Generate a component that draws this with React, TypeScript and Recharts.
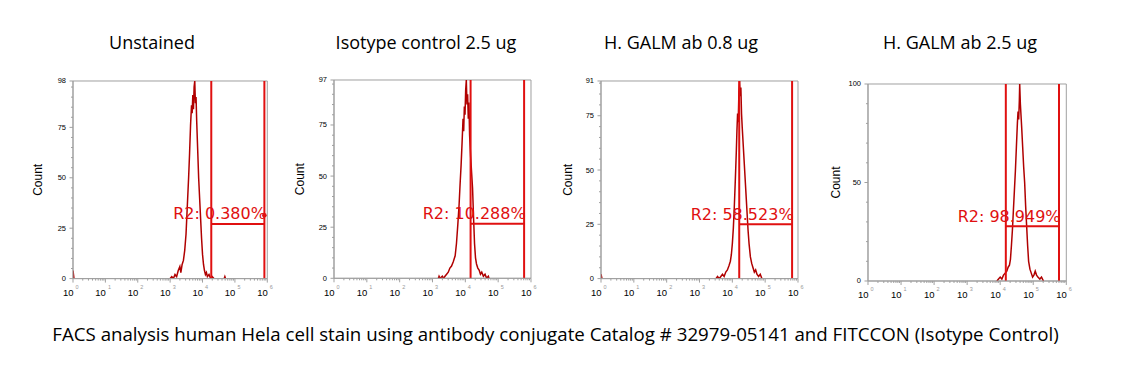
import React from 'react';
import { LineChart, Line, XAxis, YAxis, ReferenceLine, ReferenceArea, ReferenceDot } from 'recharts';

// ---------- data ----------
const titles = ['Unstained', 'Isotype control 2.5 ug', 'H. GALM ab 0.8 ug', 'H. GALM ab 2.5 ug'];
const caption =
  'FACS analysis human Hela cell stain using antibody conjugate Catalog # 32979-05141 and FITCCON (Isotype Control)';
const gateLabels = ['R2: 0.380%', 'R2: 10.288%', 'R2: 58.523%', 'R2: 98.949%'];
const yMax = [98, 97, 91, 100];
const yMajorTicks = [
  [0, 25, 50, 75, 98],
  [0, 25, 50, 75, 97],
  [0, 25, 50, 75, 91],
  [0, 50, 100],
];
const yMinorStep = [5, 5, 5, 10];
const gateLeft = [4.27, 4.16, 4.21, 4.17];
const gateRight = [5.91, 5.79, 5.82, 5.78];
const gateLevel = [27.1, 26.7, 25.0, 27.8];
const gateDot: (number | null)[] = [31.4, null, null, null];
const decades = [0, 1, 2, 3, 4, 5, 6];
const minorMultipliers = [2, 3, 4, 5, 6, 7, 8, 9];

// histogram points: [log10 intensity, count]; null breaks the trace
const unstained: [number, number | null][] = [
  [0, 0], [0, 4], [0.03, 0], [0.05, null],
  [3.0, 0], [3.05, 1], [3.1, 0], [3.15, 2], [3.2, 1], [3.25, 4], [3.3, 6], [3.33, 3], [3.37, 7], [3.41, 9],
  [3.45, 14], [3.49, 22], [3.53, 36], [3.57, 50], [3.6, 62], [3.63, 76], [3.66, 86], [3.68, 82], [3.7, 91],
  [3.72, 84], [3.74, 95], [3.76, 98], [3.78, 87], [3.8, 90], [3.82, 78], [3.85, 64], [3.88, 50], [3.91, 40],
  [3.94, 30], [3.97, 20], [4.0, 12], [4.03, 7], [4.06, 4], [4.09, 2], [4.12, 3], [4.15, 1], [4.2, 2], [4.25, 0],
  [4.3, 1], [4.35, 0], [4.5, null],
  [4.67, 0], [4.69, 1], [4.71, 0],
];
const isotype: [number, number | null][] = [
  [3.18, 0], [3.2, 1], [3.23, 0], [3.3, 1], [3.34, 0], [3.38, 1], [3.43, 2], [3.48, 3], [3.53, 5], [3.58, 6],
  [3.63, 8], [3.69, 11], [3.73, 17], [3.77, 26], [3.81, 36], [3.84, 46], [3.87, 55], [3.9, 66], [3.93, 78],
  [3.95, 72], [3.97, 84], [3.99, 80], [4.01, 92], [4.03, 97], [4.05, 85], [4.07, 90], [4.09, 78], [4.11, 86],
  [4.13, 70], [4.16, 60], [4.19, 52], [4.22, 44], [4.25, 30], [4.28, 17], [4.31, 10], [4.34, 7], [4.38, 5],
  [4.42, 4], [4.46, 2], [4.5, 3], [4.55, 1], [4.6, 2], [4.65, 0], [4.7, 1], [4.72, 0],
];
const galm08: [number, number | null][] = [
  [0, 0], [0, 2], [0.03, 0], [0.05, null],
  [3.5, 0], [3.55, 1], [3.6, 0], [3.65, 1], [3.7, 2], [3.75, 1], [3.8, 3], [3.85, 4], [3.9, 6], [3.94, 8],
  [3.97, 11], [4.0, 16], [4.03, 23], [4.06, 33], [4.09, 45], [4.12, 58], [4.14, 68], [4.16, 76], [4.18, 72],
  [4.2, 86], [4.22, 91], [4.24, 84], [4.26, 88], [4.28, 76], [4.3, 70], [4.33, 62], [4.36, 54], [4.39, 46],
  [4.42, 38], [4.45, 30], [4.48, 22], [4.51, 16], [4.55, 10], [4.59, 7], [4.63, 5], [4.67, 3], [4.71, 4],
  [4.75, 2], [4.8, 1], [4.85, 2], [4.9, 0],
];
const galm25: [number, number | null][] = [
  [3.9, 0], [3.95, 1], [4.0, 2], [4.05, 1], [4.1, 3], [4.15, 4], [4.2, 5], [4.24, 7], [4.28, 8], [4.31, 11],
  [4.34, 18], [4.37, 26], [4.4, 36], [4.43, 46], [4.46, 56], [4.49, 68], [4.52, 80], [4.54, 86], [4.56, 82],
  [4.58, 92], [4.59, 100], [4.61, 90], [4.63, 84], [4.65, 78], [4.68, 68], [4.71, 58], [4.74, 50], [4.77, 38],
  [4.8, 28], [4.83, 18], [4.86, 10], [4.9, 6], [4.94, 4], [4.98, 2], [5.02, 3], [5.06, 5], [5.1, 3], [5.14, 2],
  [5.2, 1], [5.25, 2], [5.31, 0],
];
const series = [unstained, isotype, galm08, galm25];

// ---------- layout ----------
const boxes = [
  { L: 72.7, R: 267, T: 80.7, B: 278.3, countX: 38, titleX: 152 },
  { L: 334, R: 531, T: 80, B: 278.3, countX: 300, titleX: 426 },
  { L: 600.7, R: 797.7, T: 80.7, B: 278.3, countX: 568, titleX: 681 },
  { L: 867.7, R: 1066, T: 84, B: 281, countX: 836, titleX: 960 },
];
const GRID = '#a0a0a0';
const GATE = '#e01010';
const HIST = '#b00000';
const ML = 60, MT = 10, MR = 20, MB = 30;

const xTicks: number[] = [];
decades.forEach((d) => {
  xTicks.push(d);
  if (d < 6) minorMultipliers.forEach((k) => xTicks.push(d + Math.log10(k)));
});

function Panel({ i }: { i: number }) {
  const b = boxes[i];
  const width = b.R - b.L + ML + MR;
  const height = b.B - b.T + MT + MB;
  const left = b.L - ML;
  const top = b.T - MT;
  const data = series[i].map(([x, y]) => ({ x, y }));
  const majors = yMajorTicks[i];
  const yTicks: number[] = [...majors];
  for (let v = yMinorStep[i]; v < yMax[i]; v += yMinorStep[i]) if (!majors.includes(v)) yTicks.push(v);
  yTicks.sort((a, c) => a - c);

  const renderXTick = (p: any) => {
    const v = p.payload.value;
    const isMajor = Math.abs(v - Math.round(v)) < 1e-6;
    return (
      <g>
        <line x1={p.x} x2={p.x} y1={p.y} y2={p.y + (isMajor ? 4 : 2)} stroke={GRID} strokeWidth={1} />
        {isMajor && (
          <>
            <text x={p.x + 0.5} y={p.y + 17.5} textAnchor="end" fontSize={9.5} fontFamily="Liberation Sans, Arial" fill="#000">
              10
            </text>
            <text x={p.x + 2.5} y={p.y + 10.5} fontSize={5.5} fontFamily="Liberation Sans, Arial" fill="#999">
              {Math.round(v)}
            </text>
          </>
        )}
      </g>
    );
  };
  const renderYTick = (p: any) => {
    const v = p.payload.value;
    const isMajor = majors.includes(v);
    return (
      <g>
        <line x1={p.x - (isMajor ? 3.5 : 2)} x2={p.x} y1={p.y} y2={p.y} stroke={GRID} strokeWidth={1} />
        {isMajor && (
          <text x={p.x - 7} y={p.y + 2.5} textAnchor="end" fontSize={7.5} fontFamily="Liberation Sans, Arial" fill="#000">
            {v}
          </text>
        )}
      </g>
    );
  };
  const renderCount = () => (
    <text
      x={b.countX - left}
      y={(b.T + b.B) / 2 - top}
      transform={`rotate(-90 ${b.countX - left} ${(b.T + b.B) / 2 - top})`}
      textAnchor="middle"
      dominantBaseline="central"
      fontSize={12}
      fontFamily="Liberation Sans, Arial"
      fill="#000"
    >
      Count
    </text>
  );
  const renderGateLabel = (p: any) => {
    const vb = p.viewBox || {};
    if (vb.x == null) return null;
    return (
      <text x={vb.x + vb.width + 1.5} y={vb.y - 4.6} textAnchor="end" fontSize={16} fontFamily="DejaVu Sans" fill={GATE}>
        {gateLabels[i]}
      </text>
    );
  };

  return (
    <div style={{ position: 'absolute', left, top }}>
      <LineChart width={width} height={height} data={data} margin={{ top: MT, right: MR, bottom: 0, left: 0 }}>
        <XAxis
          type="number"
          dataKey="x"
          domain={[0, 6]}
          ticks={xTicks}
          interval={0}
          height={MB}
          tickSize={0}
          tickMargin={0}
          tickLine={false}
          stroke={GRID}
          tick={renderXTick}
          allowDataOverflow
        />
        <YAxis
          type="number"
          domain={[0, yMax[i]]}
          ticks={yTicks}
          interval={0}
          width={ML}
          tickSize={0}
          tickMargin={0}
          tickLine={false}
          stroke={GRID}
          tick={renderYTick}
          label={renderCount}
          allowDataOverflow
        />
        <ReferenceArea x1={0} x2={6} y1={0} y2={yMax[i]} fill="none" stroke={GRID} strokeWidth={1} />
        <Line
          dataKey="y"
          type="linear"
          stroke={HIST}
          strokeWidth={1.5}
          dot={false}
          activeDot={false}
          connectNulls={false}
          isAnimationActive={false}
        />
        <ReferenceLine x={gateLeft[i]} stroke={GATE} strokeWidth={2} />
        <ReferenceLine x={gateRight[i]} stroke={GATE} strokeWidth={2} />
        <ReferenceLine
          segment={[
            { x: gateLeft[i], y: gateLevel[i] },
            { x: gateRight[i], y: gateLevel[i] },
          ]}
          stroke={GATE}
          strokeWidth={2}
          label={renderGateLabel}
        />
        {gateDot[i] != null && <ReferenceDot x={gateRight[i]} y={gateDot[i] as number} r={2.3} fill={GATE} stroke="none" />}
      </LineChart>
    </div>
  );
}

export default function App() {
  return (
    <div style={{ position: 'absolute', left: 0, top: 0, width: 1139, height: 378, background: '#fff', overflow: 'hidden' }}>
      {titles.map((t, i) => (
        <div
          key={t}
          style={{
            position: 'absolute',
            left: boxes[i].titleX - 150,
            width: 300,
            top: 31,
            textAlign: 'center',
            fontFamily: 'Open Sans',
            fontSize: 18,
            lineHeight: '22px',
            color: '#000',
            whiteSpace: 'nowrap',
          }}
        >
          {t}
        </div>
      ))}
      {[0, 1, 2, 3].map((i) => (
        <Panel key={i} i={i} />
      ))}
      <div
        style={{
          position: 'absolute',
          left: 0,
          width: 1111,
          top: 322,
          textAlign: 'center',
          fontFamily: 'Open Sans',
          fontSize: 18.7,
          lineHeight: '24px',
          color: '#000',
          whiteSpace: 'nowrap',
        }}
      >
        {caption}
      </div>
    </div>
  );
}
